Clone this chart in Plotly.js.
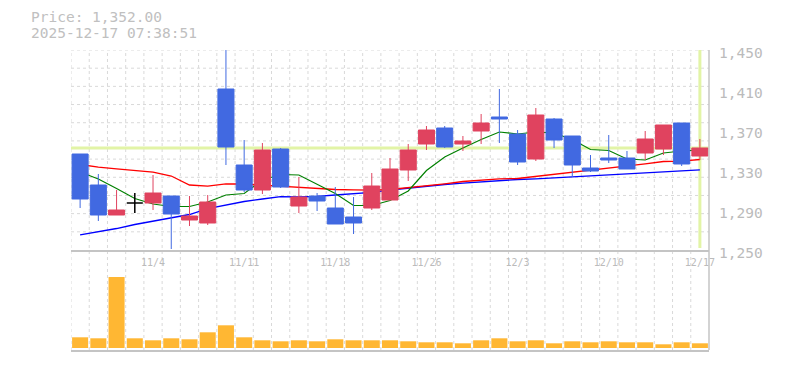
<!DOCTYPE html>
<html><head><meta charset="utf-8">
<script src="https://cdn.plot.ly/plotly-3.0.1.min.js"></script>
<style>html,body{margin:0;padding:0;background:#fff}</style>
</head><body><div id="chart" style="width:785px;height:370px"></div>
<script>
const dates = ['10/28','10/29','10/30','10/31','11/4','11/5','11/6','11/7','11/10','11/11','11/12','11/13','11/14','11/17','11/18','11/19','11/20','11/21','11/25','11/26','11/27','11/28','12/1','12/2','12/3','12/4','12/5','12/8','12/9','12/10','12/11','12/12','12/15','12/16','12/17'];
const openP  = [1346,1315,1285,1297,1297,1304,1280,1277,1411,1335,1310,1351,1294,1304,1292,1283,1292,1300,1330,1356,1372,1356,1369,1383,1366,1341,1381,1364,1332,1342,1342,1347,1351,1377,1344];
const highP  = [1346,1326,1310,1307,1325,1304,1304,1305,1450,1360,1357,1352,1323,1307,1313,1303,1327,1342,1356,1374,1374,1364,1386,1411,1370,1392,1382,1364,1345,1365,1349,1369,1375,1377,1361];
const lowP   = [1292,1279,1285,1287,1290,1251,1274,1275,1335,1308,1306,1312,1287,1289,1276,1266,1290,1300,1319,1350,1352,1349,1356,1357,1335,1339,1352,1323,1328,1337,1331,1340,1345,1334,1340];
const closeP = [1301,1285,1290,1297,1307,1286,1284,1298,1353,1310,1350,1313,1303,1299,1276,1277,1314,1331,1350,1370,1353,1359,1377,1381,1338,1385,1360,1335,1329,1340,1331,1361,1375,1336,1352];
const volume = [10700,9700,71000,9700,7700,9700,8700,15700,22700,10700,7700,6700,7700,6700,8700,7700,7700,7700,6700,5700,5700,4700,7700,9700,6700,7700,4700,6700,5700,6700,5700,5700,3700,5700,4700];
const ma5  = [1328,1321,1311.5,1301.5,1296,1293.5,1293.5,1298,1305,1306.5,1320,1325.5,1325,1316,1306.5,1294.5,1294.5,1299.5,1309,1329.5,1343,1352,1360.5,1368,1366,1368,1367,1360.5,1350.5,1349.5,1341,1340,1347,1349,1350];
const ma25 = [1335.5,1332.8,1331.2,1329.8,1327.8,1324,1315,1313.8,1316.2,1316,1314.8,1313.8,1312.8,1311.5,1310.5,1310.2,1309.8,1310.5,1312.2,1314.5,1316.2,1318.5,1319.8,1321.2,1321.5,1323.5,1325.8,1328.2,1330.2,1331.8,1333.5,1336.2,1338.5,1338.8,1340.5];
const ma75 = [1265.2,1268.2,1271.5,1275.5,1278.8,1281.8,1285.5,1291.5,1294.8,1298.5,1301,1303.3,1303,1303.6,1305,1306.5,1307.7,1310,1312,1314.2,1315.5,1316.8,1318.2,1319.5,1320.5,1321.2,1322.2,1322.8,1323.5,1324.5,1325.5,1326.5,1327.8,1329.2,1330.2];
const labelDates = ['11/4','11/11','11/18','11/26','12/3','12/10','12/17'];
const priceTicks = [1250,1290,1330,1370,1410,1450];
const stampText = '2025-12-17 07:38:51';

const TXT = '#bbbbbb', GRID = '#d9d9d9', AXL = '#c4c4c4';
const RED = '#e0435f', BLUE = '#4169e1', BAND = '#e2f4a6';
const last = closeP.length - 1;
const yMin = priceTicks[0], yMax = priceTicks[priceTicks.length-1];

// split doji candles (open == close) into their own black trace
const nd = {x:[],o:[],h:[],l:[],c:[]}, dj = {x:[],o:[],h:[],l:[],c:[]};
dates.forEach((d,i)=>{
  const t = openP[i] === closeP[i] ? dj : nd;
  t.x.push(d); t.o.push(openP[i]); t.h.push(highP[i]); t.l.push(lowP[i]); t.c.push(closeP[i]);
});

const traces = [
  {type:'scatter', mode:'lines', x:dates, y:ma75, xaxis:'x', yaxis:'y', line:{color:'#0000ff', width:1.3}},
  {type:'scatter', mode:'lines', x:dates, y:ma25, xaxis:'x', yaxis:'y', line:{color:'#ff0000', width:1.3}},
  {type:'scatter', mode:'lines', x:dates, y:ma5, xaxis:'x', yaxis:'y', line:{color:'#008000', width:1.2}},
  {type:'candlestick', x:nd.x, open:nd.o, high:nd.h, low:nd.l, close:nd.c, xaxis:'x', yaxis:'y3',
   increasing:{line:{color:RED, width:1}, fillcolor:RED},
   decreasing:{line:{color:BLUE, width:1}, fillcolor:BLUE}, whiskerwidth:0},
  {type:'candlestick', x:dj.x, open:dj.o, high:dj.h, low:dj.l, close:dj.c, xaxis:'x', yaxis:'y3',
   increasing:{line:{color:'#000000', width:1.5}, fillcolor:'#000000'},
   decreasing:{line:{color:'#000000', width:1.5}, fillcolor:'#000000'}, whiskerwidth:0},
  {type:'bar', x:dates, y:volume, xaxis:'x2', yaxis:'y2', marker:{color:'#ffb733', line:{width:0}}}
];

const shapes = [];
for (let k = 0; k < dates.length; k++) {
  shapes.push({type:'line', layer:'below', xref:'x', yref:'paper', x0:k-0.5, x1:k-0.5, y0:0, y1:1,
    line:{color:GRID, width:1, dash:'3px,3px'}});
}
for (let k = 1; k <= 11; k++) {
  const yv = yMin + k*(yMax-yMin)/11;
  shapes.push({type:'line', layer:'below', xref:'paper', yref:'y', x0:0, x1:1, y0:yv, y1:yv,
    line:{color:GRID, width:1, dash:'3px,3px'}});
}
shapes.push({type:'line', layer:'between', xref:'x', yref:'y', x0:-0.5, x1:dates.length-0.5, y0:closeP[last], y1:closeP[last], line:{color:BAND, width:3}});
shapes.push({type:'line', layer:'between', xref:'x', yref:'y', x0:last, x1:last, y0:yMin+2, y1:yMax, line:{color:BAND, width:3}});
shapes.push({type:'line', layer:'above', xref:'paper', yref:'paper', x0:1, x1:1, y0:0, y1:1, line:{color:AXL, width:1.5}});

const fmt = n => n.toLocaleString('en-US', {minimumFractionDigits:2, maximumFractionDigits:2});

const layout = {
  width:785, height:370, margin:{l:71, r:76, t:50, b:20},
  paper_bgcolor:'#ffffff', plot_bgcolor:'rgba(0,0,0,0)', showlegend:false, hovermode:false,
  boxgap:0.12, boxgroupgap:0, bargap:0.12,
  font:{family:'DejaVu Sans Mono', color:TXT},
  xaxis:{type:'category', domain:[0,1], anchor:'y', range:[-0.5, dates.length-0.5], showgrid:false, zeroline:false,
    showline:true, linecolor:AXL, linewidth:1.5, ticks:'', tickmode:'array', tickvals:labelDates, ticktext:labelDates,
    tickfont:{family:'DejaVu Sans Mono', size:10, color:TXT}, ticklabelstandoff:2, rangeslider:{visible:false}},
  yaxis:{domain:[0.3333,1], anchor:'x', side:'right', range:[yMin,yMax], showgrid:false, zeroline:false,
    showline:false, ticks:'', tickmode:'array', tickvals:priceTicks, tickformat:',d',
    tickfont:{family:'DejaVu Sans Mono', size:14.5, color:TXT}, ticklabelstandoff:9, ticklabelshift:3},
  yaxis3:{overlaying:'y', anchor:'x', range:[yMin,yMax], visible:false},
  xaxis2:{type:'category', domain:[0,1], anchor:'y2', matches:'x', range:[-0.5, dates.length-0.5], showgrid:false, zeroline:false,
    showline:true, linecolor:AXL, linewidth:1.5, showticklabels:false, ticks:''},
  yaxis2:{domain:[0,0.2933], anchor:'x2', side:'right', range:[-2000,86000], showgrid:false, zeroline:false,
    showline:false, showticklabels:false, ticks:''},
  shapes:shapes,
  annotations:[
    {xref:'paper', yref:'paper', x:(29-71)/638, y:(350-17)/300, xanchor:'left', yanchor:'middle', showarrow:false,
     text:'Price: ' + fmt(closeP[last]), font:{family:'DejaVu Sans Mono', size:14.5, color:'#c0c0c0'}},
    {xref:'paper', yref:'paper', x:(29-71)/638, y:(350-33)/300, xanchor:'left', yanchor:'middle', showarrow:false,
     text:stampText, font:{family:'DejaVu Sans Mono', size:14.5, color:'#c0c0c0'}}
  ]
};

Plotly.newPlot('chart', traces, layout, {staticPlot:true, displayModeBar:false});
</script></body></html>
